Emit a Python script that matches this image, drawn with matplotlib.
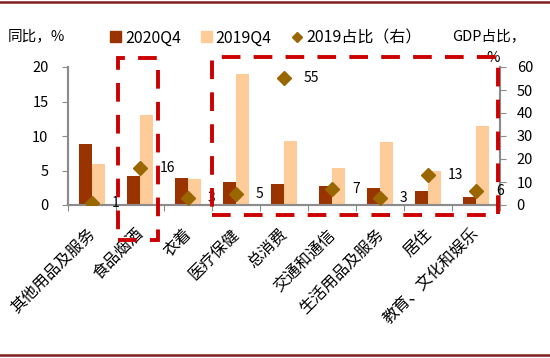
import matplotlib
matplotlib.use("Agg")
import matplotlib.pyplot as plt
from matplotlib.patches import Rectangle
from matplotlib.lines import Line2D
from matplotlib.transforms import ScaledTranslation
import numpy as np

plt.rcParams['font.family'] = ['Noto Sans CJK SC', 'DejaVu Sans']

categories = ["其他用品及服务", "食品烟酒", "衣着", "医疗保健", "总消费",
              "交通和通信", "生活用品及服务", "居住", "教育、文化和娱乐"]
q4_2020 = [8.9, 4.2, 3.9, 3.3, 3.0, 2.8, 2.4, 2.0, 1.1]
q4_2019 = [6.0, 13.1, 3.8, 19.0, 9.3, 5.3, 9.2, 5.0, 11.5]
share_2019 = [1, 16, 3, 5, 55, 7, 3, 13, 6]
share_labels = ["1", "16", "3", "5", "55", "7", "3", "13", "6"]
left_ticks = [0, 5, 10, 15, 20]
right_ticks = [0, 10, 20, 30, 40, 50, 60]

c_dark = "#993300"
c_light = "#FFCC99"
c_dia = "#996600"
c_red = "#CC0000"
c_spine = "#8C8C8C"

W, H = 550, 358
fig = plt.figure(figsize=(5.5, 3.58), dpi=100)
ax = fig.add_axes([68 / W, 1 - 205 / H, (500 - 68) / W, (205 - 67) / H])
ax2 = ax.twinx()

x = np.arange(len(categories))
bw = 0.28
ax.bar(x - bw / 2, q4_2020, width=bw, color=c_dark, zorder=2)
ax.bar(x + bw / 2, q4_2019, width=bw, color=c_light, zorder=2)
ax2.plot(x, share_2019, linestyle='none', marker='D', ms=7.6, color=c_dia, zorder=3)
for xi, v, lab in zip(x, share_2019, share_labels):
    ax2.annotate(lab, (xi, v), xytext=(20, 0), textcoords='offset pixels',
                 ha='left', va='center', fontsize=10, color='black')

ax.set_xlim(-0.5, len(categories) - 0.5)
ax.set_ylim(0, 20)
ax2.set_ylim(0, 60)
ax.set_yticks(left_ticks)
ax2.set_yticks(right_ticks)
ax.set_xticks(np.arange(len(categories) + 1) - 0.5)
ax.set_xticklabels([])
ax.set_xticks(x, minor=True)
ax.set_xticklabels(categories, minor=True, rotation=45, ha='right',
                   rotation_mode='anchor', fontsize=11.5)
ax.tick_params(axis='x', which='minor', length=0, pad=15)
ax.tick_params(axis='x', which='major', length=4, color=c_spine, direction='out')
ax.tick_params(axis='y', length=4, color=c_spine, labelsize=10.5, pad=10)
ax2.tick_params(axis='y', length=4, color=c_spine, labelsize=10.5, pad=8)
shift = ScaledTranslation(-5 / 100, 0, fig.dpi_scale_trans)
for lab in ax.get_xticklabels(minor=True):
    lab.set_transform(lab.get_transform() + shift)

for a in (ax, ax2):
    a.spines['top'].set_visible(False)
    for s in ('left', 'right', 'bottom'):
        a.spines[s].set_color(c_spine)
        a.spines[s].set_linewidth(1.5)

# legend
handles = [Rectangle((0, 0), 1, 1, color=c_dark),
           Rectangle((0, 0), 1, 1, color=c_light),
           Line2D([], [], linestyle='none', marker='D', ms=5.1, color=c_dia)]
fig.legend(handles, ["2020Q4", "2019Q4", "2019占比（右）"], loc='center',
           bbox_to_anchor=(266 / W, 1 - 38 / H), ncol=3, frameon=False,
           fontsize=11.5, handlelength=0.69, handleheight=0.69,
           handletextpad=0.25, columnspacing=1.25, borderpad=0)

fig.text(8 / W, 1 - 37 / H, "同比，%", fontsize=10.5, ha='left', va='center')
fig.text(452 / W, 1 - 37 / H, "GDP占比，", fontsize=10.5, ha='left', va='center')
fig.text(493 / W, 1 - 58 / H, "%", fontsize=10.5, ha='center', va='center')

# dashed highlight boxes
def box(x0, y0, x1, y1):
    r = Rectangle((x0 / W, 1 - y1 / H), (x1 - x0) / W, (y1 - y0) / H,
                  transform=fig.transFigure, fill=False, edgecolor=c_red,
                  linewidth=2.8, linestyle=(0, (4.8, 3.4)), zorder=10)
    fig.add_artist(r)

box(118, 58, 158, 240)
box(212, 57, 498, 215)

# top/bottom rules
fig.add_artist(Line2D([0, 1], [1 - 2 / H, 1 - 2 / H], transform=fig.transFigure,
                      color="#7F1F1F", linewidth=1.8))
fig.add_artist(Line2D([0, 1], [1 - 355 / H, 1 - 355 / H], transform=fig.transFigure,
                      color="#7F1F1F", linewidth=1.8))

fig.savefig("out.png", dpi=100)
